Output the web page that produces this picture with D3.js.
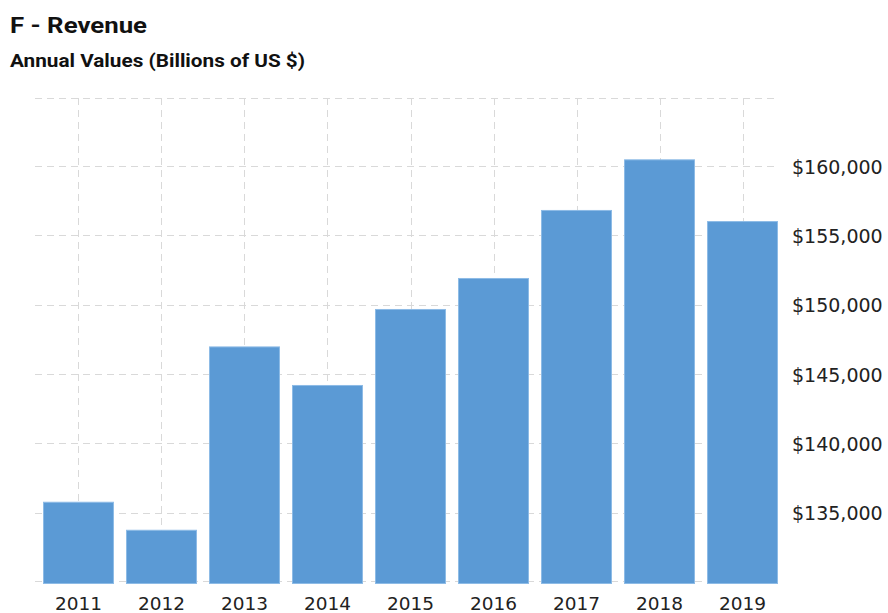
<!DOCTYPE html>
<html>
<head>
<meta charset="utf-8">
<script src="https://cdn.jsdelivr.net/npm/d3@7"></script>
<style>
  html, body { margin: 0; padding: 0; background: #fff; }
  svg { display: block; }
</style>
</head>
<body>
<svg id="chart" width="888" height="613"></svg>
<script>
// Ford annual revenue, millions of US $
const years = ["2011", "2012", "2013", "2014", "2015", "2016", "2017", "2018", "2019"];
const revenue = [135790, 133770, 146990, 144210, 149690, 151925, 156830, 160480, 156030];
const yTicks = [135000, 140000, 145000, 150000, 155000, 160000];
const yDomain = [130075, 164903];

const svg = d3.select("#chart");
const plot = { left: 35, right: 778, top: 98, bottom: 581 };

const x = d3.scaleBand()
  .domain(years)
  .range([43, plot.right])
  .paddingInner(0.145)
  .paddingOuter(0);

const y = d3.scaleLinear()
  .domain(yDomain)
  .range([plot.bottom, plot.top]);

const fmt = v => "$" + d3.format(",")(v);

// Titles
svg.append("text")
  .attr("x", 10).attr("y", 33)
  .attr("font-family", "Roboto, 'Helvetica Neue', Arial, sans-serif")
  .attr("font-weight", 700)
  .attr("font-size", 22.5)
  .attr("fill", "#111")
  .attr("textLength", 137)
  .attr("lengthAdjust", "spacingAndGlyphs")
  .text("F - Revenue");

svg.append("text")
  .attr("x", 10).attr("y", 67)
  .attr("font-family", "Roboto, 'Helvetica Neue', Arial, sans-serif")
  .attr("font-weight", 700)
  .attr("font-size", 19)
  .attr("fill", "#111")
  .attr("textLength", 295)
  .attr("lengthAdjust", "spacingAndGlyphs")
  .text("Annual Values (Billions of US $)");

// Grid
const grid = svg.append("g")
  .attr("stroke", "#d9d9d9")
  .attr("stroke-width", 1)
  .attr("stroke-dasharray", "7,5");

const hLines = [yDomain[0], ...yTicks, yDomain[1]];
grid.selectAll("line.h")
  .data(hLines)
  .join("line")
  .attr("class", "h")
  .attr("x1", plot.left).attr("x2", plot.right)
  .attr("y1", d => Math.round(y(d)) + 0.5)
  .attr("y2", d => Math.round(y(d)) + 0.5);

grid.selectAll("line.v")
  .data(years)
  .join("line")
  .attr("class", "v")
  .attr("x1", d => Math.round(x(d) + x.bandwidth() / 2) + 0.5)
  .attr("x2", d => Math.round(x(d) + x.bandwidth() / 2) + 0.5)
  .attr("y1", plot.top)
  .attr("y2", plot.bottom);

// Bars
const data = years.map((yr, i) => ({ year: yr, value: revenue[i] }));
svg.append("g")
  .selectAll("rect")
  .data(data)
  .join("rect")
  .attr("x", d => x(d.year) + 0.5)
  .attr("y", d => y(d.value) + 0.5)
  .attr("width", x.bandwidth() - 1)
  .attr("height", d => y(yDomain[0]) + 2 - y(d.value))
  .attr("fill", "#5b9ad5")
  .attr("stroke", "#8dbbe6")
  .attr("stroke-width", 1);

// Y axis (right side)
const yAxis = d3.axisRight(y)
  .tickValues(yTicks)
  .tickFormat(fmt)
  .tickSize(0)
  .tickPadding(0);

const gy = svg.append("g")
  .attr("transform", `translate(792,0)`)
  .call(yAxis);
gy.select(".domain").remove();
gy.selectAll("text")
  .attr("font-family", "'DejaVu Sans', Verdana, sans-serif")
  .attr("font-size", 19)
  .attr("fill", "#222")
  .attr("dy", "0.38em");

// X axis
const xAxis = d3.axisBottom(x).tickSize(0).tickPadding(0);
const gx = svg.append("g")
  .attr("transform", `translate(0,${plot.bottom})`)
  .call(xAxis);
gx.select(".domain").remove();
gx.selectAll("text")
  .attr("font-family", "'DejaVu Sans', Verdana, sans-serif")
  .attr("font-size", 18.5)
  .attr("fill", "#222")
  .attr("dy", null)
  .attr("y", 29);
</script>
</body>
</html>
